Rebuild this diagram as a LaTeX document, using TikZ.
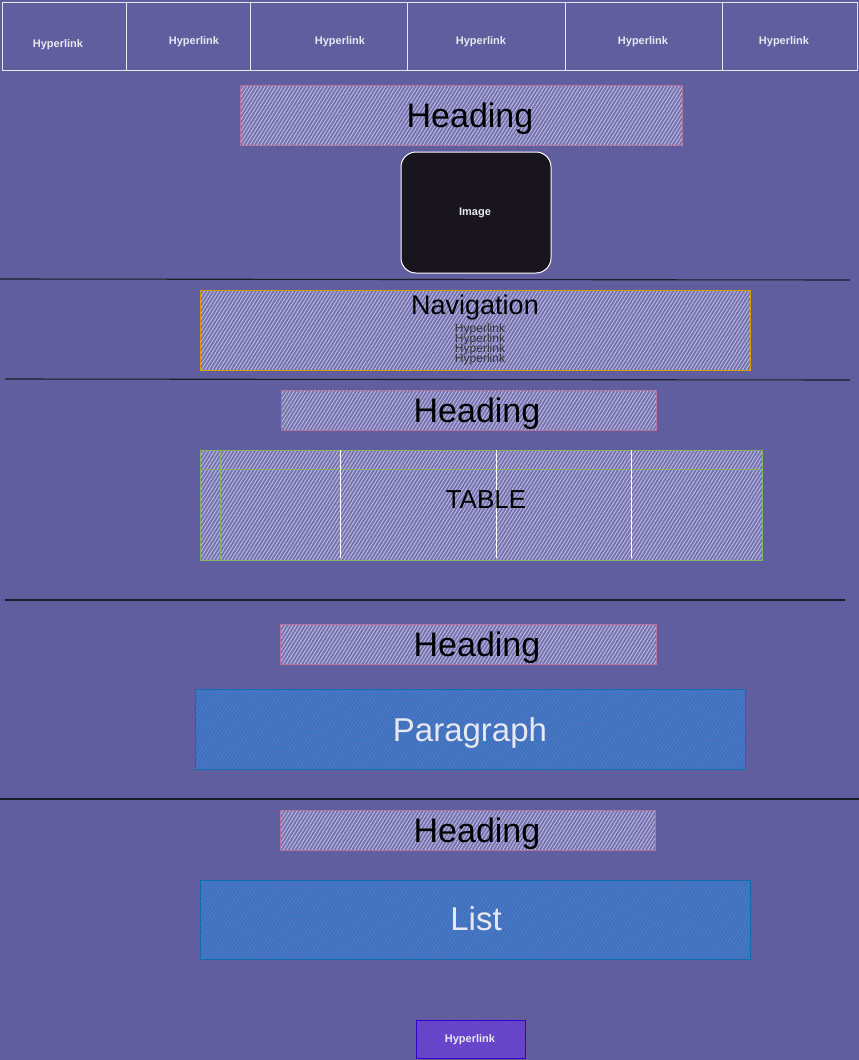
\documentclass[tikz,border=0pt]{standalone}
\usepackage{fontspec}
\setmainfont{Liberation Sans}
\usetikzlibrary{patterns.meta}
\definecolor{bgc}{RGB}{96,94,158}
\definecolor{hfill}{RGB}{118,116,176}
\definecolor{hline}{RGB}{200,196,232}
\definecolor{pinkc}{RGB}{181,115,157}
\definecolor{orangec}{RGB}{215,155,0}
\definecolor{greenc}{RGB}{130,179,102}
\definecolor{bluec}{RGB}{16,110,175}
\definecolor{bfill}{RGB}{72,108,186}
\definecolor{bline}{RGB}{58,136,210}
\definecolor{purc}{RGB}{55,0,204}
\definecolor{pfill}{RGB}{98,72,190}
\definecolor{pline}{RGB}{118,64,228}
\definecolor{imgc}{RGB}{24,21,30}
\definecolor{divc}{RGB}{28,28,38}
\definecolor{linkc}{RGB}{232,232,242}
\begin{document}
\begin{tikzpicture}[x=1pt,y=-1pt,
  cell/.style={draw=white!85!bgc, line width=0.9pt},
  toplink/.style={font=\fontsize{11}{13}\selectfont\bfseries, text=linkc, inner sep=0pt},
  hatch/.style 2 args={rectangle, inner sep=0pt, line width=0.9pt, preaction={fill=#1},
     pattern={Lines[angle=58,distance=3pt,line width=0.75pt]}, pattern color=#2},
  headbox/.style={hatch={hfill}{hline}, draw=pinkc},
  bigtext/.style={font=\fontsize{34}{38}\selectfont, text=black, inner sep=0pt},
  whitetext/.style={font=\fontsize{33}{38}\selectfont, text=linkc, inner sep=0pt},
  navlink/.style={font=\fontsize{12}{12}\selectfont, text=black!80, inner sep=0pt},
  divider/.style={draw=divc, line width=1.1pt},
]
\fill[bgc] (0,0) rectangle (859,1060);
\useasboundingbox (0,0) rectangle (859,1060);

% top navigation bar
\node[cell, rectangle, inner sep=0pt, minimum width=124pt, minimum height=68pt] (c1) at (64,36) {};
\node[cell, rectangle, inner sep=0pt, minimum width=124pt, minimum height=68pt] (c2) at (188,36) {};
\node[cell, rectangle, inner sep=0pt, minimum width=157pt, minimum height=68pt] (c3) at (328.5,36) {};
\node[cell, rectangle, inner sep=0pt, minimum width=158pt, minimum height=68pt] (c4) at (486,36) {};
\node[cell, rectangle, inner sep=0pt, minimum width=157pt, minimum height=68pt] (c5) at (643.5,36) {};
\node[cell, rectangle, inner sep=0pt, minimum width=135pt, minimum height=68pt] (c6) at (789.5,36) {};
\node[toplink] (l1) at (58,44.5) {Hyperlink};
\node[toplink] (l2) at (194,41.5) {Hyperlink};
\node[toplink] (l3) at (340,41.5) {Hyperlink};
\node[toplink] (l4) at (481,41.5) {Hyperlink};
\node[toplink] (l5) at (643,41.5) {Hyperlink};
\node[toplink] (l6) at (784,41.5) {Hyperlink};

% heading + image
\node[headbox, minimum width=442pt, minimum height=60pt] (h1) at (461,115) {};
\node[bigtext] (h1t) at (470,119) {Heading};
\node[rectangle, rounded corners=15pt, fill=imgc, draw=white, line width=1pt,
      minimum width=150pt, minimum height=121pt, inner sep=0pt,
      font=\fontsize{11}{13}\selectfont\bfseries, text=linkc] (img) at (476,212.5) {};
\node[font=\fontsize{11}{13}\selectfont\bfseries, text=linkc, inner sep=0pt] (imgt) at (475,213) {Image};

\coordinate (d1a) at (0,279); \coordinate (d1b) at (850,280);
\draw[divider] (d1a) -- (d1b);

% navigation
\node[hatch={hfill}{hline}, draw=orangec, minimum width=550pt, minimum height=80pt] (nav) at (475,330) {};
\node[font=\fontsize{27}{30}\selectfont, text=black, inner sep=0pt] (navt) at (475,308) {Navigation};
\node[navlink] (n1) at (480,329) {Hyperlink};
\node[navlink] (n2) at (480,339) {Hyperlink};
\node[navlink] (n3) at (480,349) {Hyperlink};
\node[navlink] (n4) at (480,359) {Hyperlink};

\coordinate (d2a) at (5,379); \coordinate (d2b) at (850,380);
\draw[divider] (d2a) -- (d2b);

% heading + table
\node[headbox, minimum width=375pt, minimum height=40pt] (h2) at (468.5,410) {};
\node[bigtext] (h2t) at (477,414) {Heading};
\node[hatch={hfill}{hline}, draw=greenc, minimum width=562pt, minimum height=110pt] (tab) at (481,505) {};
\coordinate (th1) at (200,469); \coordinate (th2) at (762,469);
\draw[greenc, line width=0.9pt] (th1) -- (th2);
\coordinate (tv1) at (220,450); \coordinate (tv2) at (220,560);
\draw[greenc, line width=0.9pt] (tv1) -- (tv2);
\foreach \x [count=\i] in {340,496,631}{
  \coordinate (ta\i) at (\x,450); \coordinate (tb\i) at (\x,558);
  \draw[white, line width=0.7pt] (ta\i) -- (tb\i);
}
\node[font=\fontsize{26}{30}\selectfont, text=black, inner sep=0pt] (tabt) at (486,500) {TABLE};

\coordinate (d3a) at (5,600); \coordinate (d3b) at (845,600);
\draw[divider] (d3a) -- (d3b);

% heading + paragraph
\node[headbox, minimum width=376pt, minimum height=40pt] (h3) at (468,644) {};
\node[bigtext] (h3t) at (477,648) {Heading};
\node[hatch={bfill}{bline}, draw=bluec, minimum width=550pt, minimum height=80pt] (para) at (470,729) {};
\node[whitetext] (parat) at (470,733) {Paragraph};

\coordinate (d4a) at (0,799); \coordinate (d4b) at (859,799);
\draw[divider] (d4a) -- (d4b);

% heading + list
\node[headbox, minimum width=375pt, minimum height=40pt] (h4) at (467.5,830) {};
\node[bigtext] (h4t) at (477,834) {Heading};
\node[hatch={bfill}{bline}, draw=bluec, minimum width=550pt, minimum height=79pt] (list) at (475,919.5) {};
\node[whitetext] (listt) at (476,919) {List};

% bottom hyperlink
\node[hatch={pfill}{pline}, draw=purc, minimum width=109pt, minimum height=38pt] (foot) at (470.5,1039) {};
\node[font=\fontsize{11}{13}\selectfont\bfseries, text=linkc, inner sep=0pt] (foott) at (470,1040) {Hyperlink};
\end{tikzpicture}
\end{document}
